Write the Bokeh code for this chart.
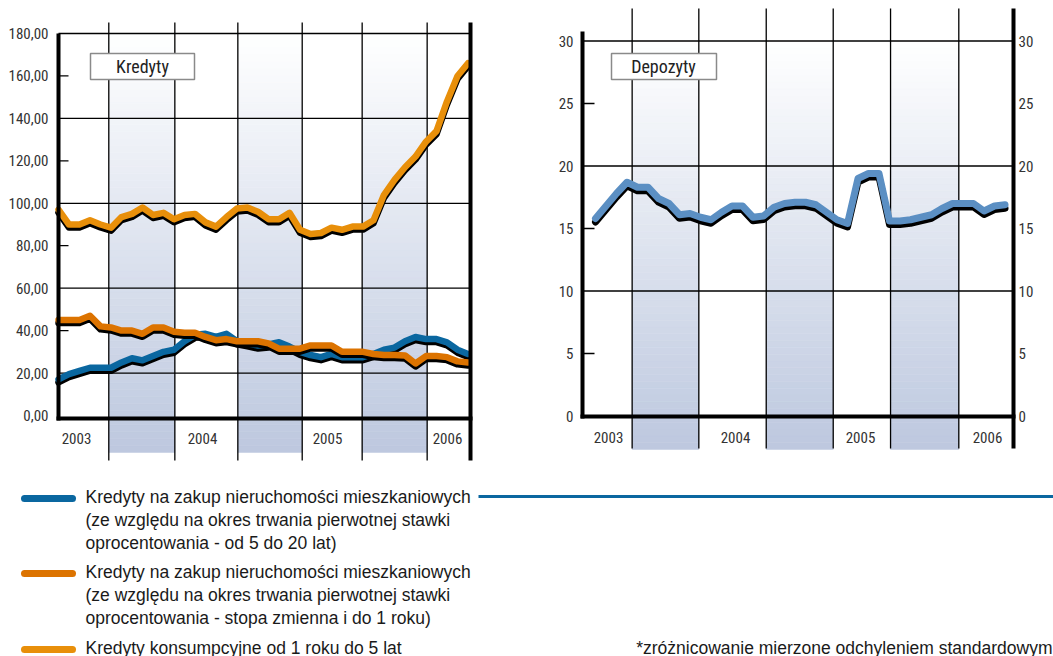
from bokeh.plotting import figure
from bokeh.layouts import column, row
from bokeh.models import Range1d, FixedTicker, LinearAxis
from bokeh.core.properties import value
from bokeh.embed import file_html
from bokeh.resources import INLINE

# ---------------- data (monthly, Feb 2003 .. May 2006) ----------------
months = list(range(40))

housing_fixed = [17, 19.5, 21, 22.5, 22.5, 22.5, 25, 27, 26, 28, 30, 31,
                 35, 38, 38.5, 37, 38.5, 35, 34, 33, 33.5, 34.5, 32.5, 30,
                 28.5, 27.5, 29, 27.5, 27.5, 27.5, 29, 31, 32, 35, 37, 36,
                 36, 34.5, 31, 29]
housing_variable = [45, 45, 45, 47, 42, 41.5, 40, 40, 38.5, 41.5, 41.5, 39.5,
                    39, 39, 37, 35.5, 36, 35, 35, 35, 34, 31.5, 31.5, 31.5,
                    33, 33, 33, 30, 30, 30, 29, 28.5, 28.5, 28.3, 24.5, 28,
                    28, 27.5, 25.5, 25]
consumer = [97, 90, 90, 92, 90, 88.5, 93.5, 95, 98, 94.5, 95.5, 92.5,
            94.5, 95, 91, 89, 93.5, 97.5, 98, 96, 92.5, 92.5, 95.5, 87.5,
            85.5, 86, 88.5, 87.5, 89, 89, 92, 104, 111, 117, 122, 129,
            134, 148, 160, 166]
deposits = [15.8, 16.8, 17.8, 18.7, 18.3, 18.3, 17.4, 17.0, 16.1, 16.2, 15.9, 15.7,
            16.3, 16.8, 16.8, 15.9, 16.0, 16.7, 17.0, 17.1, 17.1, 16.9, 16.3, 15.7,
            15.4, 19.0, 19.4, 19.4, 15.6, 15.6, 15.7, 15.9, 16.1, 16.6, 17.0, 17.0,
            17.0, 16.4, 16.8, 16.9]

years = ["2003", "2004", "2005", "2006"]
left_ticks = [0, 20, 40, 60, 80, 100, 120, 140, 160, 180]
left_tick_labels = ["0,00", "20,00", "40,00", "60,00", "80,00", "100,00",
                    "120,00", "140,00", "160,00", "180,00"]
right_ticks = [0, 5, 10, 15, 20, 25, 30]
right_tick_labels = ["0", "5", "10", "15", "20", "25", "30"]

legend_labels = [
    ["Kredyty na zakup nieruchomości mieszkaniowych",
     "(ze względu na okres trwania pierwotnej stawki",
     "oprocentowania - od 5 do 20 lat)"],
    ["Kredyty na zakup nieruchomości mieszkaniowych",
     "(ze względu na okres trwania pierwotnej stawki",
     "oprocentowania - stopa zmienna i do 1 roku)"],
    ["Kredyty konsumpcyjne od 1 roku do 5 lat"],
]
footnote = "*zróżnicowanie mierzone odchyleniem standardowym"

# ---------------- styles ----------------
BLUE = "#0a67a0"
DORANGE = "#dc7300"
LORANGE = "#e88f0a"
SKY = "#5b8fc3"
NARROW = "'Roboto Condensed', 'Noto Sans Condensed', 'DejaVu Sans Condensed', sans-serif"
SANS = "'Liberation Sans', Arial, sans-serif"
LABEL_COLOR = "#333333"
TICK_SIZE = "15px"


def lerp_color(t):
    c0 = (255, 255, 255)
    c1 = (189, 200, 223)
    return "#%02x%02x%02x" % tuple(int(round(a + (b - a) * t)) for a, b in zip(c0, c1))


def gradient_band(p, x0, x1, ytop, ybot, n=60):
    lefts, rights, tops, bots, cols = [], [], [], [], []
    for k in range(n):
        t0 = k / n
        t1 = (k + 1) / n
        lefts.append(x0)
        rights.append(x1)
        tops.append(ytop + (ybot - ytop) * t0)
        bots.append(ytop + (ybot - ytop) * t1)
        cols.append(lerp_color((t0 + t1) / 2))
    p.quad(left=lefts, right=rights, top=tops, bottom=bots,
           fill_color=cols, line_color=cols, line_width=0.5)


def base_fig(width, xr, yr, bl, br):
    p = figure(width=width, height=462, x_range=xr, y_range=yr,
               output_backend="svg", toolbar_location=None,
               x_axis_location=None, y_axis_location="left",
               min_border_left=bl, min_border_right=br,
               min_border_top=0, min_border_bottom=0,
               outline_line_color=None, background_fill_color="white",
               border_fill_color="white")
    p.grid.visible = False
    return p


def style_axis(ax, ticks, labels, standoff):
    ax.ticker = FixedTicker(ticks=ticks)
    ax.major_label_overrides = {t: l for t, l in zip(ticks, labels)}
    ax.axis_line_color = None
    ax.major_tick_line_color = None
    ax.minor_tick_line_color = None
    ax.major_tick_in = 0
    ax.major_tick_out = 0
    ax.major_label_standoff = standoff
    ax.major_label_text_font = NARROW
    ax.major_label_text_font_size = TICK_SIZE
    ax.major_label_text_color = LABEL_COLOR


def shadow_line(p, xs, ys, color, dy, width=6.5):
    p.line(xs, [v - dy for v in ys], line_color="black", line_width=width,
           line_join="round", line_cap="round")
    p.line(xs, ys, line_color=color, line_width=width,
           line_join="round", line_cap="round")


# ---------------- left chart: Kredyty ----------------
PX1 = 10.5
PY1 = 382 / 180.0
X1 = lambda px: (px - 58) / PX1
Y1 = lambda py: (415 - py) / PY1

p1 = base_fig(540, Range1d(X1(52), X1(476)), Range1d(Y1(462), Y1(0)), 52, 64)
style_axis(p1.yaxis[0], left_ticks, left_tick_labels, 4)

vlines1 = [4.79, 11.08, 17.08, 23.21, 28.92, 35.11]
for a, b in [(vlines1[0], vlines1[1]), (vlines1[2], vlines1[3]), (vlines1[4], vlines1[5])]:
    gradient_band(p1, a, b, 180, Y1(452))
p1.segment(x0=vlines1, x1=vlines1, y0=[Y1(22)] * 6, y1=[Y1(460)] * 6,
           line_color="black", line_width=1.3)
grid1 = [20, 60, 100, 140, 180]
p1.segment(x0=[0] * 5, x1=[X1(470)] * 5, y0=grid1, y1=grid1,
           line_color="black", line_width=1.3)
tk1 = [40, 80, 120, 160]
p1.segment(x0=[0] * 4, x1=[X1(68)] * 4, y0=tk1, y1=tk1,
           line_color="black", line_width=1.3)

dy1 = 3 / PY1
shadow_line(p1, months, housing_fixed, BLUE, dy1)
shadow_line(p1, months, housing_variable, DORANGE, dy1)
shadow_line(p1, months, consumer, LORANGE, dy1)

# thick frame lines
p1.segment(x0=[0, X1(56), X1(470)], x1=[0, X1(472), X1(470)],
           y0=[180, Y1(418), Y1(22)], y1=[Y1(420), Y1(418), Y1(460)],
           line_color="black", line_width=4)

p1.text(x=[X1(76), X1(202), X1(327), X1(447)], y=[Y1(438)] * 4, text=years,
        text_font=value(NARROW), text_font_size=TICK_SIZE, text_color=LABEL_COLOR,
        text_align="center", text_baseline="middle")

p1.quad(left=[X1(90)], right=[X1(194)], top=[Y1(53)], bottom=[Y1(79)],
        fill_color="white", line_color="#8a8a8a", line_width=1.5)
p1.text(x=[X1(142)], y=[Y1(66)], text=["Kredyty"], text_font=value(NARROW),
        text_font_size="18px", text_color="#222222", text_align="center",
        text_baseline="middle")

# ---------------- right chart: Depozyty ----------------
PX2 = 10.5
PY2 = 12.5
X2 = lambda px: (px - 595) / PX2
Y2 = lambda py: (415.5 - py) / PY2

p2 = base_fig(513, Range1d(X2(576), X2(1016)), Range1d(Y2(462), Y2(0)), 36, 37)
style_axis(p2.yaxis[0], right_ticks, right_tick_labels, 3)
rax = LinearAxis()
style_axis(rax, right_ticks, right_tick_labels, 2)
p2.add_layout(rax, "right")

vlines2 = [3.49, 9.84, 16.26, 22.64, 28.1, 34.6]
for a, b in [(vlines2[0], vlines2[1]), (vlines2[2], vlines2[3]), (vlines2[4], vlines2[5])]:
    gradient_band(p2, a, b, 30, Y2(449))
p2.segment(x0=vlines2, x1=vlines2, y0=[Y2(8)] * 6, y1=[Y2(448)] * 6,
           line_color="black", line_width=1.3)
grid2 = [10, 20, 30]
p2.segment(x0=[X2(582)] * 3, x1=[X2(1013)] * 3, y0=grid2, y1=grid2,
           line_color="black", line_width=1.3)
tk2 = [5, 15, 25]
p2.segment(x0=[X2(582)] * 3, x1=[X2(594)] * 3, y0=tk2, y1=tk2,
           line_color="black", line_width=1.3)

shadow_line(p2, months, deposits, SKY, 3.5 / PY2, width=7)

p2.segment(x0=[X2(582), X2(580), X2(1013)], x1=[X2(582), X2(1015), X2(1013)],
           y0=[Y2(31), Y2(416), Y2(8)], y1=[Y2(418), Y2(416), Y2(448)],
           line_color="black", line_width=4)

p2.text(x=[X2(608), X2(735), X2(860), X2(987)], y=[Y2(437)] * 4, text=years,
        text_font=value(NARROW), text_font_size=TICK_SIZE, text_color=LABEL_COLOR,
        text_align="center", text_baseline="middle")

p2.quad(left=[X2(611)], right=[X2(716)], top=[Y2(53)], bottom=[Y2(79)],
        fill_color="white", line_color="#8a8a8a", line_width=1.5)
p2.text(x=[X2(663)], y=[Y2(66)], text=["Depozyty"], text_font=value(NARROW),
        text_font_size="18px", text_color="#222222", text_align="center",
        text_baseline="middle")

# ---------------- legend strip ----------------
p3 = figure(width=1053, height=194, x_range=Range1d(0, 1053), y_range=Range1d(194, 0),
            output_backend="svg", toolbar_location=None,
            x_axis_location=None, y_axis_location=None,
            min_border=0, outline_line_color=None)
p3.grid.visible = False

LX = lambda px: px
LY = lambda py: py - 462

marker_y = [498, 573, 649]
marker_colors = [BLUE, DORANGE, LORANGE]
p3.segment(x0=[LX(24)] * 3, x1=[LX(72)] * 3, y0=[LY(v) for v in marker_y],
           y1=[LY(v) for v in marker_y], line_color=marker_colors,
           line_width=7, line_cap="round")
p3.segment(x0=[LX(478)], x1=[LX(1053)], y0=[LY(496)], y1=[LY(496)],
           line_color=BLUE, line_width=3)

text_y = [[496, 519, 542], [571, 594, 617], [647]]
tx, ty, tt = [], [], []
for lines, ys in zip(legend_labels, text_y):
    for s, yy in zip(lines, ys):
        tx.append(LX(85))
        ty.append(LY(yy))
        tt.append(s)
p3.text(x=tx, y=ty, text=tt, text_font=value(SANS), text_font_size="17.5px",
        text_color="#1a1a1a", text_align="left", text_baseline="middle")
p3.text(x=[LX(1052)], y=[LY(647)], text=[footnote], text_font=value(SANS),
        text_font_size="17.5px", text_color="#1a1a1a", text_align="right",
        text_baseline="middle")

layout = column(row(p1, p2), p3)
open("out.html", "w").write(file_html(layout, INLINE))
